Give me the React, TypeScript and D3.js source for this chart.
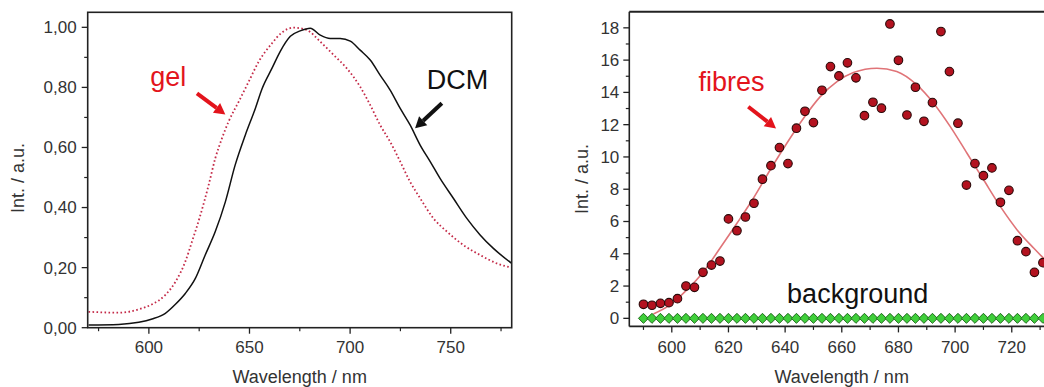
import React from "react";
import * as d3 from "d3";

// ---------- Left panel data (normalised emission spectra) ----------
const dcmWavelength = [570, 585, 595, 601.6, 608.2, 613.2, 618.1, 623.1, 628, 633, 638, 642.9, 647.9, 652.9, 656.2, 661.2, 665.3, 670.3, 675.2, 680.2, 685.2, 690.1, 695.1, 700.1, 705, 710, 714.9, 719.9, 724.9, 729.8, 734.8, 739.8, 744.7, 751.3, 758, 764.6, 771.2, 780.3];
const dcmIntensity = [0.009, 0.011, 0.018, 0.029, 0.048, 0.078, 0.114, 0.164, 0.242, 0.32, 0.419, 0.542, 0.641, 0.73, 0.795, 0.864, 0.92, 0.97, 0.988, 0.997, 0.974, 0.963, 0.963, 0.954, 0.924, 0.891, 0.841, 0.791, 0.73, 0.675, 0.608, 0.553, 0.497, 0.431, 0.364, 0.309, 0.264, 0.214];

const gelWavelength = [570, 585, 594.9, 601.6, 608.2, 613.2, 618.1, 621.4, 625.6, 629.7, 633, 636.3, 639.6, 644.6, 649.6, 654.5, 661.2, 666, 671.9, 678.5, 685.2, 691.8, 698.4, 705, 710, 714.9, 719.9, 724.9, 729.8, 734.8, 741.4, 748.1, 756.3, 764.6, 772.9, 780.3];
const gelIntensity = [0.053, 0.05, 0.061, 0.078, 0.109, 0.153, 0.22, 0.286, 0.375, 0.475, 0.564, 0.63, 0.686, 0.752, 0.819, 0.885, 0.947, 0.982, 0.999, 0.991, 0.952, 0.908, 0.863, 0.802, 0.741, 0.675, 0.619, 0.553, 0.486, 0.431, 0.364, 0.32, 0.275, 0.242, 0.214, 0.2];

const leftXTicks = [600, 650, 700, 750];
const leftXMinor = [575, 625, 675, 725, 775];
const leftYTicks = [0, 0.2, 0.4, 0.6, 0.8, 1.0];
const leftYMinor = [0.1, 0.3, 0.5, 0.7, 0.9];

// ---------- Right panel data (fibres vs background) ----------
const fibreWavelength = [590, 593, 596, 599, 602, 605, 608, 611, 614, 617, 620, 623, 626, 629, 632, 635, 638, 641, 644, 647, 650, 653, 656, 659, 662, 665, 668, 671, 674, 677, 680, 683, 686, 689, 692, 695, 698, 701, 704, 707, 710, 713, 716, 719, 722, 725, 728, 731, 734];
const fibreIntensity = [0.87, 0.81, 0.93, 0.97, 1.22, 2.0, 1.92, 2.85, 3.3, 3.55, 6.16, 5.43, 6.28, 7.13, 8.62, 9.46, 10.58, 9.59, 11.78, 12.83, 12.13, 14.13, 15.6, 15.02, 15.83, 14.9, 12.56, 13.39, 13.02, 18.24, 15.99, 12.6, 14.32, 12.21, 13.37, 17.77, 15.29, 12.09, 8.26, 9.59, 8.84, 9.32, 7.19, 7.93, 4.81, 4.13, 2.85, 3.45, 2.6];
const backgroundIntensity = [0, 0, 0, 0, 0, 0, 0, 0, 0, 0, 0, 0, 0, 0, 0, 0, 0, 0, 0, 0, 0, 0, 0, 0, 0, 0, 0, 0, 0, 0, 0, 0, 0, 0, 0, 0, 0, 0, 0, 0, 0, 0, 0, 0, 0, 0, 0, 0, 0];

const fitWavelength = [593.5, 599.4, 605.3, 611.2, 617, 623, 628.8, 634.7, 640.6, 646.5, 652.4, 658.3, 664.1, 672.4, 679.4, 686.5, 692.4, 698.3, 704.2, 710.1, 716, 721.9, 727.8, 733.7, 740];
const fitIntensity = [0.27, 0.83, 1.76, 2.89, 4.34, 5.89, 7.44, 9.19, 10.85, 12.4, 13.74, 14.67, 15.23, 15.5, 15.29, 14.46, 13.33, 11.88, 10.23, 8.57, 6.92, 5.48, 4.34, 3.3, 2.4];

const rightXTicks = [600, 620, 640, 660, 680, 700, 720];
const rightXMinor = [590, 610, 630, 650, 670, 690, 710, 730];
const rightYTicks = [0, 2, 4, 6, 8, 10, 12, 14, 16, 18];
const rightYMinor = [1, 3, 5, 7, 9, 11, 13, 15, 17];

// ---------- Annotations (in data units) ----------
const gelLabel = { x: 600.7, y: 0.805, text: "gel" };
const gelArrow = { x1: 623.9, y1: 0.78, x2: 638.0, y2: 0.71 };
const dcmLabel = { x: 738.1, y: 0.795, text: "DCM" };
const dcmArrow = { x1: 745.6, y1: 0.747, x2: 732.3, y2: 0.664 };
const fibreLabel = { x: 609.4, y: 14.1, text: "fibres" };
const fibreArrow = { x1: 627.0, y1: 13.11, x2: 636.8, y2: 11.77 };
const bgLabel = { x: 640.7, y: 0.93, text: "background" };

const FONT = "'Liberation Sans', Arial, Helvetica, sans-serif";
const AXIS = "#222";
const TEXT = "#333";

function Arrow({ x1, y1, x2, y2, color }: { x1: number; y1: number; x2: number; y2: number; color: string }) {
  const ang = Math.atan2(y2 - y1, x2 - x1);
  const headLen = 11;
  const headW = 6;
  const bx = x2 - headLen * Math.cos(ang);
  const by = y2 - headLen * Math.sin(ang);
  const px = -Math.sin(ang) * headW;
  const py = Math.cos(ang) * headW;
  return (
    <g>
      <line x1={x1} y1={y1} x2={bx} y2={by} stroke={color} strokeWidth={4} />
      <polygon points={`${x2},${y2} ${bx + px},${by + py} ${bx - px},${by - py}`} fill={color} />
    </g>
  );
}

function LeftPanel() {
  const x = d3.scaleLinear().domain([569.6, 780.3]).range([87.7, 511.7]);
  const y = d3.scaleLinear().domain([0, 1.05]).range([327.7, 12.3]);
  const [x0, x1] = x.range();
  const [y0, y1] = y.range();
  const line = d3.line<[number, number]>().x((d) => x(d[0])).y((d) => y(d[1])).curve(d3.curveMonotoneX);
  const dcm = line(dcmWavelength.map((w, i) => [w, dcmIntensity[i]] as [number, number])) || "";
  const gel = line(gelWavelength.map((w, i) => [w, gelIntensity[i]] as [number, number])) || "";
  const fmt = (v: number) => d3.format(".2f")(v).replace(".", ",");
  return (
    <g>
      <path d={gel} fill="none" stroke="#c42a48" strokeWidth={1.8} strokeDasharray="1.6 2.4" />
      <path d={dcm} fill="none" stroke="#111" strokeWidth={1.5} />
      <rect x={x0} y={y1} width={x1 - x0} height={y0 - y1} fill="none" stroke={AXIS} strokeWidth={1.6} />
      {leftYTicks.map((t) => (
        <g key={"ly" + t}>
          <line x1={x0 - 6} x2={x0} y1={y(t)} y2={y(t)} stroke={AXIS} strokeWidth={1.3} />
          <text x={x0 - 11} y={y(t)} dy="0.35em" textAnchor="end" fontSize={17} fill={TEXT}>{fmt(t)}</text>
        </g>
      ))}
      {leftYMinor.map((t) => (
        <line key={"lym" + t} x1={x0 - 3.5} x2={x0} y1={y(t)} y2={y(t)} stroke={AXIS} strokeWidth={1.2} />
      ))}
      {leftXTicks.map((t) => (
        <g key={"lx" + t}>
          <line x1={x(t)} x2={x(t)} y1={y0} y2={y0 + 6} stroke={AXIS} strokeWidth={1.3} />
          <text x={x(t)} y={353} textAnchor="middle" fontSize={17} fill={TEXT}>{t}</text>
        </g>
      ))}
      {leftXMinor.map((t) => (
        <line key={"lxm" + t} x1={x(t)} x2={x(t)} y1={y0} y2={y0 + 3.5} stroke={AXIS} strokeWidth={1.2} />
      ))}
      <text x={(x0 + x1) / 2} y={383} textAnchor="middle" fontSize={18} fill={TEXT}>Wavelength / nm</text>
      <text transform={`translate(24,178) rotate(-90)`} textAnchor="middle" fontSize={18} fill={TEXT}>Int.  / a.u.</text>
      <text x={x(gelLabel.x)} y={y(gelLabel.y)} fontSize={27} fill="#e3141c">{gelLabel.text}</text>
      <Arrow x1={x(gelArrow.x1)} y1={y(gelArrow.y1)} x2={x(gelArrow.x2)} y2={y(gelArrow.y2)} color="#e3141c" />
      <text x={x(dcmLabel.x)} y={y(dcmLabel.y)} fontSize={27} fill="#111">{dcmLabel.text}</text>
      <Arrow x1={x(dcmArrow.x1)} y1={y(dcmArrow.y1)} x2={x(dcmArrow.x2)} y2={y(dcmArrow.y2)} color="#111" />
    </g>
  );
}

function RightPanel() {
  const x = d3.scaleLinear().domain([585, 742]).range([629.3, 1074.1]);
  const y = d3.scaleLinear().domain([-0.5, 19]).range([326.4, 11.7]);
  const [x0, x1] = x.range();
  const [y0, y1] = y.range();
  const fitLine = d3.line<[number, number]>().x((d) => x(d[0])).y((d) => y(d[1])).curve(d3.curveMonotoneX);
  const fit = fitLine(fitWavelength.map((w, i) => [w, fitIntensity[i]] as [number, number])) || "";
  const diamond = d3.symbol().type(d3.symbolDiamond2).size(64)() || "";
  return (
    <g>
      <path d={fit} fill="none" stroke="#e07478" strokeWidth={1.6} />
      {fibreWavelength.map((w, i) => (
        <path key={"bg" + w} d={diamond} transform={`translate(${x(w)},${y(backgroundIntensity[i])})`} fill="#3fcf3a" stroke="#1f6a1c" strokeWidth={1} />
      ))}
      {fibreWavelength.map((w, i) => (
        <circle key={"f" + w} cx={x(w)} cy={y(fibreIntensity[i])} r={4.3} fill="#b3121f" stroke="#2a0808" strokeWidth={1.1} />
      ))}
      <line x1={x0} x2={x1} y1={y1} y2={y1} stroke={AXIS} strokeWidth={2} />
      <line x1={x0} x2={x1} y1={y0} y2={y0} stroke={AXIS} strokeWidth={1.6} />
      <line x1={x0} x2={x0} y1={y1} y2={y0} stroke={AXIS} strokeWidth={1.6} />
      {rightYTicks.map((t) => (
        <g key={"ry" + t}>
          <line x1={x0 - 6} x2={x0} y1={y(t)} y2={y(t)} stroke={AXIS} strokeWidth={1.3} />
          <text x={x0 - 10} y={y(t)} dy="0.35em" textAnchor="end" fontSize={17} fill={TEXT}>{t}</text>
        </g>
      ))}
      {rightYMinor.map((t) => (
        <line key={"rym" + t} x1={x0 - 3.5} x2={x0} y1={y(t)} y2={y(t)} stroke={AXIS} strokeWidth={1.2} />
      ))}
      {rightXTicks.map((t) => (
        <g key={"rx" + t}>
          <line x1={x(t)} x2={x(t)} y1={y0} y2={y0 + 6} stroke={AXIS} strokeWidth={1.3} />
          <text x={x(t)} y={352.5} textAnchor="middle" fontSize={17} fill={TEXT}>{t}</text>
        </g>
      ))}
      {rightXMinor.map((t) => (
        <line key={"rxm" + t} x1={x(t)} x2={x(t)} y1={y0} y2={y0 + 3.5} stroke={AXIS} strokeWidth={1.2} />
      ))}
      <text x={841.7} y={383} textAnchor="middle" fontSize={18} fill={TEXT}>Wavelength / nm</text>
      <text transform={`translate(588,179) rotate(-90)`} textAnchor="middle" fontSize={18} fill={TEXT}>Int.  / a.u.</text>
      <text x={x(fibreLabel.x)} y={y(fibreLabel.y)} fontSize={27} fill="#e3141c">{fibreLabel.text}</text>
      <Arrow x1={x(fibreArrow.x1)} y1={y(fibreArrow.y1)} x2={x(fibreArrow.x2)} y2={y(fibreArrow.y2)} color="#e3141c" />
      <text x={x(bgLabel.x)} y={y(bgLabel.y)} fontSize={27} fill="#111">{bgLabel.text}</text>
    </g>
  );
}

export default function App() {
  return (
    <div style={{ position: "fixed", left: 0, top: 0, width: 1044, height: 387, background: "#fff" }}>
      <svg width={1044} height={387} viewBox="0 0 1044 387" style={{ display: "block", fontFamily: FONT }}>
        <rect width={1044} height={387} fill="#fff" />
        <LeftPanel />
        <RightPanel />
      </svg>
    </div>
  );
}
